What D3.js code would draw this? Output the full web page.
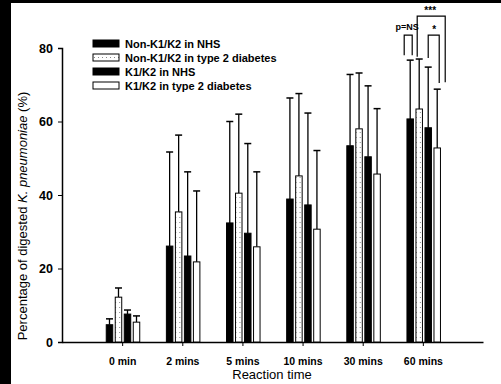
<!DOCTYPE html>
<html>
<head>
<meta charset="utf-8">
<script src="https://cdn.jsdelivr.net/npm/d3@7"></script>
<style>
  body { margin: 0; background: #fff; }
  svg { display: block; font-family: "Liberation Sans", Arial, sans-serif; }
</style>
</head>
<body>
<div id="chart"></div>
<script>
// data
var categories = ["0 min", "2 mins", "5 mins", "10 mins", "30 mins", "60 mins"]
var seriesNames = ["Non-K1/K2 in NHS", "Non-K1/K2 in type 2 diabetes", "K1/K2 in NHS", "K1/K2 in type 2 diabetes"]
var nonK_NHS = [4.7, 26.1, 32.4, 38.9, 53.4, 60.7]
var nonK_T2D = [12.2, 35.4, 40.5, 45.2, 58.0, 63.4]
var k_NHS = [7.6, 23.4, 29.6, 37.3, 50.4, 58.3]
var k_T2D = [5.4, 21.8, 25.9, 30.7, 45.7, 52.8]
// upper error (SD)
var nonK_NHS_sd = [1.6, 25.6, 27.6, 27.5, 19.4, 16.0]
var nonK_T2D_sd = [2.5, 20.9, 21.5, 22.4, 15.2, 13.6]
var k_NHS_sd = [1.1, 22.9, 24.4, 25.0, 19.3, 16.5]
var k_T2D_sd = [1.7, 19.3, 20.4, 21.4, 17.8, 16.0]
var yTicks = [0, 20, 40, 60, 80]

var means = [nonK_NHS, nonK_T2D, k_NHS, k_T2D]
var sds = [nonK_NHS_sd, nonK_T2D_sd, k_NHS_sd, k_T2D_sd]
var fills = ["#000", "url(#dots)", "#000", "#fff"]

var width = 501, height = 384

var svg = d3.select("#chart").append("svg")
    .attr("width", width)
    .attr("height", height)

// dotted fill for the second series
var pat = svg.append("defs").append("pattern")
    .attr("id", "dots")
    .attr("width", 4).attr("height", 5)
    .attr("patternUnits", "userSpaceOnUse")
pat.append("rect").attr("width", 4).attr("height", 5).attr("fill", "#fff")
pat.append("rect").attr("x", 1).attr("y", 2).attr("width", 1).attr("height", 1).attr("fill", "#888")

// scanned border on left and top
svg.append("rect").attr("x", 0).attr("y", 0).attr("width", 11).attr("height", height).attr("fill", "#000")
svg.append("rect").attr("x", 0).attr("y", 0).attr("width", width).attr("height", 3).attr("fill", "#000")

var x0 = d3.scalePoint().domain(categories).range([62, 483]).padding(1)
var x1 = d3.scaleBand().domain(d3.range(4)).range([-15.9, 17.6]).paddingInner(0.28)
var y = d3.scaleLinear().domain([0, 80]).range([342, 48])

// axes
var yAxis = svg.append("g")
    .attr("transform", "translate(62,0)")
    .call(d3.axisLeft(y).tickValues(yTicks).tickSize(4).tickPadding(5))
yAxis.selectAll("text").style("font-size", "12.5px").style("font-weight", "bold").attr("fill", "#000")

var xAxis = svg.append("g")
    .attr("transform", "translate(0,342)")
    .call(d3.axisBottom(x0).tickSize(4).tickPadding(12).tickSizeOuter(0))
xAxis.selectAll("text").style("font-size", "10.5px").style("font-weight", "bold").attr("fill", "#000")
svg.selectAll(".domain").attr("stroke", "#000").attr("stroke-width", 1.5)

// bars
var groups = svg.selectAll(".grp")
    .data(categories)
    .enter().append("g")
    .attr("transform", function (d) { return "translate(" + x0(d) + ",0)" })

groups.each(function (cat, ci) {
    var g = d3.select(this)
    for (var s = 0; s < 4; s++) {
        var cx = x1(s) + x1.bandwidth() / 2
        var top = y(means[s][ci] + sds[s][ci])
        g.append("line")
            .attr("x1", cx).attr("x2", cx)
            .attr("y1", y(means[s][ci])).attr("y2", top)
            .attr("stroke", "#000").attr("stroke-width", 1.3)
        g.append("line")
            .attr("x1", cx - 3.5).attr("x2", cx + 3.5)
            .attr("y1", top).attr("y2", top)
            .attr("stroke", "#000").attr("stroke-width", 1.5)
        g.append("rect")
            .attr("x", x1(s))
            .attr("y", y(means[s][ci]))
            .attr("width", x1.bandwidth())
            .attr("height", y(0) - y(means[s][ci]))
            .attr("fill", fills[s])
            .attr("stroke", "#000")
            .attr("stroke-width", 1)
    }
})

// significance brackets at 60 mins (values in axis units)
var last = categories[5]
function barX(s) { return x0(last) + x1(s) + x1.bandwidth() / 2 }
var brackets = [
    { xl: barX(0) - 6, xr: barX(0) + 2, top: 83.5, yl: 78, yr: 78, label: "p=NS", lx: barX(0) - 3, ly: 30 },
    { xl: barX(1) - 2, xr: barX(3) + 8, top: 88.7, yl: 77.6, yr: 70.7, label: "***", lx: barX(2) + 2, ly: 14 },
    { xl: barX(2), xr: barX(3) + 2, top: 83.5, yl: 77.3, yr: 70.5, label: "*", lx: barX(2) + 6, ly: 33 }
]
brackets.forEach(function (b) {
    svg.append("path")
        .attr("d", "M" + b.xl + "," + y(b.yl) + "V" + y(b.top) + "H" + b.xr + "V" + y(b.yr))
        .attr("fill", "none").attr("stroke", "#000").attr("stroke-width", 1.2)
    svg.append("text")
        .attr("x", b.lx).attr("y", b.ly)
        .attr("text-anchor", "middle")
        .style("font-size", b.label == "p=NS" ? "9px" : "10px")
        .style("font-weight", "bold")
        .text(b.label)
})

// legend
var legend = svg.append("g").attr("transform", "translate(93,40)")
seriesNames.forEach(function (name, i) {
    legend.append("rect")
        .attr("x", 0).attr("y", i * 14)
        .attr("width", 26).attr("height", 7)
        .attr("fill", fills[i]).attr("stroke", "#000").attr("stroke-width", 1)
    legend.append("text")
        .attr("x", 32).attr("y", i * 14 + 7.5)
        .style("font-size", "11px").style("font-weight", "bold")
        .text(name)
})

// axis titles
svg.append("text")
    .attr("x", 272).attr("y", 379)
    .attr("text-anchor", "middle")
    .style("font-size", "13px")
    .text("Reaction time")

var yl = svg.append("text")
    .attr("transform", "translate(27,216) rotate(-90)")
    .attr("text-anchor", "middle")
    .style("font-size", "13px")
yl.append("tspan").text("Percentage of digested ")
yl.append("tspan").style("font-style", "italic").text("K. pneumoniae")
yl.append("tspan").text(" (%)")
</script>
</body>
</html>
